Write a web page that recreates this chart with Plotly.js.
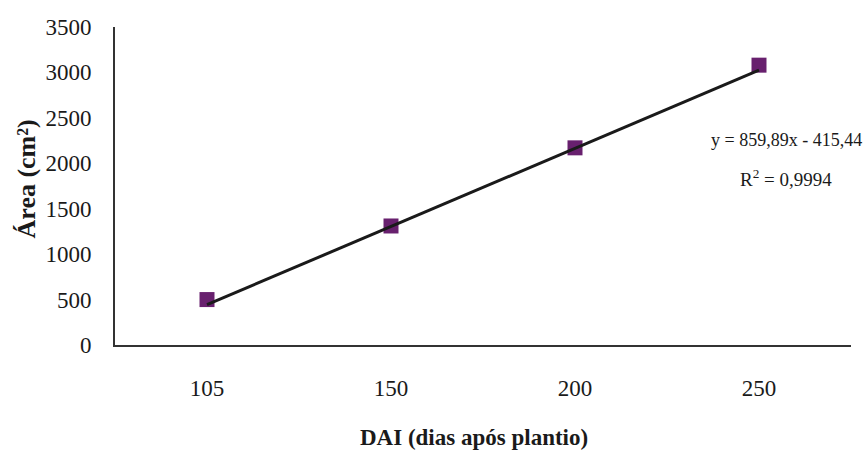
<!DOCTYPE html>
<html>
<head>
<meta charset="utf-8">
<script src="https://cdn.plot.ly/plotly-3.0.1.min.js"></script>
<style>html,body{margin:0;padding:0;background:#fff;}#chart{width:864px;height:454px;}</style>
</head>
<body>
<div id="chart"></div>
<script>
// Data
const categories = ['105', '150', '200', '250'];
const areaValues = [500, 1310, 2170, 3080];
// Linear trend line values (from y = 859,89x - 415,44 shown on the chart, x = 1..4)
const trendValues = [444.45, 1304.34, 2164.23, 3024.12];
const yTicks = [0, 500, 1000, 1500, 2000, 2500, 3000, 3500];
const xTitle = 'DAI (dias após plantio)';
const yTitle = 'Área (cm²)';
const eqText = 'y = 859,89x - 415,44';
const r2Text = 'R<sup>2</sup> = 0,9994';

const serif = '"Liberation Serif", "Times New Roman", serif';

const traces = [
  {
    x: categories, y: areaValues, type: 'scatter', mode: 'markers',
    marker: {symbol: 'square', size: 15, color: '#68206E'},
    showlegend: false, hoverinfo: 'skip'
  },
  {
    x: categories, y: trendValues, type: 'scatter', mode: 'lines',
    line: {color: '#1a1a1a', width: 3},
    showlegend: false, hoverinfo: 'skip'
  }
];

const layout = {
  width: 864, height: 454,
  margin: {l: 115, r: 13, t: 27, b: 109},
  paper_bgcolor: '#ffffff', plot_bgcolor: '#ffffff',
  font: {family: serif, color: '#1a1a1a'},
  xaxis: {
    type: 'category', range: [-0.5, 3.5],
    showgrid: false, zeroline: false,
    showline: true, linecolor: '#333333', linewidth: 2,
    ticks: '', tickfont: {family: serif, size: 23, color: '#1a1a1a'},
    ticklabelstandoff: 21
  },
  yaxis: {
    range: [0, 3500], tickvals: yTicks, ticktext: yTicks.map(String),
    showgrid: false, zeroline: false,
    showline: true, linecolor: '#333333', linewidth: 2,
    ticks: '', tickfont: {family: serif, size: 23, color: '#1a1a1a'},
    ticklabelstandoff: 17
  },
  annotations: [
    {text: '<b>' + xTitle + '</b>', xref: 'paper', yref: 'paper', x: 0.488, y: -0.292,
     showarrow: false, font: {family: serif, size: 23, color: '#1a1a1a'}, xanchor: 'center', yanchor: 'middle'},
    {text: '<b>' + yTitle + '</b>', xref: 'paper', yref: 'paper', x: -0.1196, y: 0.5236, textangle: -90,
     showarrow: false, font: {family: serif, size: 26, color: '#1a1a1a'}, xanchor: 'center', yanchor: 'middle'},
    {text: eqText, xref: 'paper', yref: 'paper', x: 0.9117, y: 0.6447,
     showarrow: false, font: {family: serif, size: 18, color: '#1a1a1a'}, xanchor: 'center', yanchor: 'middle'},
    {text: r2Text, xref: 'paper', yref: 'paper', x: 0.9117, y: 0.5252,
     showarrow: false, font: {family: serif, size: 19, color: '#1a1a1a'}, xanchor: 'center', yanchor: 'middle'}
  ]
};

Plotly.newPlot('chart', traces, layout, {staticPlot: true, displayModeBar: false});
</script>
</body>
</html>
